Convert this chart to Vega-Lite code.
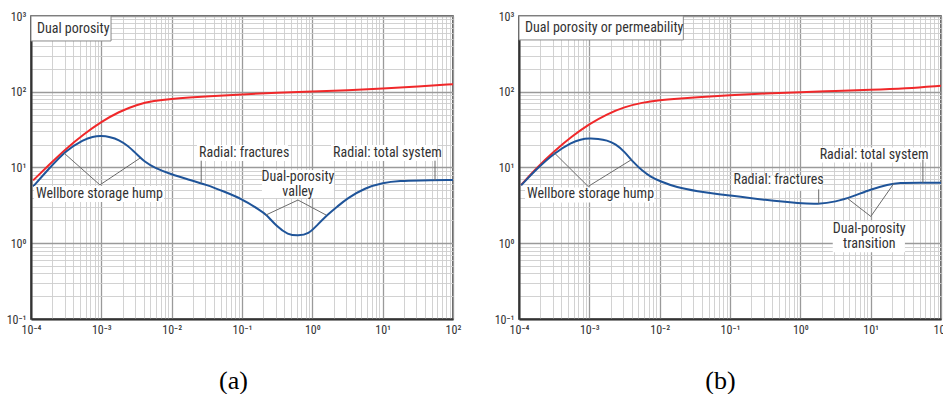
{
  "$schema": "https://vega.github.io/schema/vega-lite/v6.json",
  "background": "white",
  "padding": {"left": 5, "top": 9, "right": 0, "bottom": 0},
  "spacing": 31,
  "config": {
    "view": {"stroke": "#333333", "strokeWidth": 1.5},
    "font": "Liberation Sans Narrow, Roboto Condensed, DejaVu Sans Condensed, Arial Narrow, sans-serif",
    "text": {"font": "Liberation Sans Narrow, Roboto Condensed, DejaVu Sans Condensed, Arial Narrow, sans-serif", "fontSize": 14, "color": "#333333", "baseline": "middle"}
  },
  "datasets": {
    "curves": [
      {"panel": "a", "series": "total", "x": 0.0001072, "y": 6.76},
      {"panel": "a", "series": "total", "x": 0.0001778, "y": 10.7},
      {"panel": "a", "series": "total", "x": 0.0003162, "y": 17.8},
      {"panel": "a", "series": "total", "x": 0.0005623, "y": 27.5},
      {"panel": "a", "series": "total", "x": 0.001, "y": 40.3},
      {"panel": "a", "series": "total", "x": 0.001778, "y": 54.3},
      {"panel": "a", "series": "total", "x": 0.003162, "y": 67.6},
      {"panel": "a", "series": "total", "x": 0.005623, "y": 76.0},
      {"panel": "a", "series": "total", "x": 0.01, "y": 80.8},
      {"panel": "a", "series": "total", "x": 0.01778, "y": 84.1},
      {"panel": "a", "series": "total", "x": 0.03162, "y": 87.1},
      {"panel": "a", "series": "total", "x": 0.1, "y": 92.3},
      {"panel": "a", "series": "total", "x": 0.3162, "y": 97.2},
      {"panel": "a", "series": "total", "x": 1, "y": 101.2},
      {"panel": "a", "series": "total", "x": 3.162, "y": 104.7},
      {"panel": "a", "series": "total", "x": 10, "y": 110.4},
      {"panel": "a", "series": "total", "x": 31.62, "y": 117.5},
      {"panel": "a", "series": "total", "x": 100, "y": 125.9},
      {"panel": "a", "series": "derivative", "x": 0.0001072, "y": 5.62},
      {"panel": "a", "series": "derivative", "x": 0.0001778, "y": 9.55},
      {"panel": "a", "series": "derivative", "x": 0.0003162, "y": 17.0},
      {"panel": "a", "series": "derivative", "x": 0.0005623, "y": 23.4},
      {"panel": "a", "series": "derivative", "x": 0.00075, "y": 25.6},
      {"panel": "a", "series": "derivative", "x": 0.001, "y": 26.3},
      {"panel": "a", "series": "derivative", "x": 0.001334, "y": 25.3},
      {"panel": "a", "series": "derivative", "x": 0.001778, "y": 23.2},
      {"panel": "a", "series": "derivative", "x": 0.002371, "y": 19.5},
      {"panel": "a", "series": "derivative", "x": 0.003162, "y": 15.1},
      {"panel": "a", "series": "derivative", "x": 0.004217, "y": 11.7},
      {"panel": "a", "series": "derivative", "x": 0.005623, "y": 10.0},
      {"panel": "a", "series": "derivative", "x": 0.01, "y": 8.04},
      {"panel": "a", "series": "derivative", "x": 0.01778, "y": 6.92},
      {"panel": "a", "series": "derivative", "x": 0.03162, "y": 5.89},
      {"panel": "a", "series": "derivative", "x": 0.05623, "y": 4.79},
      {"panel": "a", "series": "derivative", "x": 0.1, "y": 3.84},
      {"panel": "a", "series": "derivative", "x": 0.1778, "y": 2.75},
      {"panel": "a", "series": "derivative", "x": 0.2188, "y": 2.43},
      {"panel": "a", "series": "derivative", "x": 0.3162, "y": 1.64},
      {"panel": "a", "series": "derivative", "x": 0.4467, "y": 1.30},
      {"panel": "a", "series": "derivative", "x": 0.631, "y": 1.25},
      {"panel": "a", "series": "derivative", "x": 0.8913, "y": 1.33},
      {"panel": "a", "series": "derivative", "x": 1.14, "y": 1.69},
      {"panel": "a", "series": "derivative", "x": 1.66, "y": 2.41},
      {"panel": "a", "series": "derivative", "x": 2.239, "y": 3.02},
      {"panel": "a", "series": "derivative", "x": 3.162, "y": 3.94},
      {"panel": "a", "series": "derivative", "x": 5.623, "y": 5.37},
      {"panel": "a", "series": "derivative", "x": 10, "y": 6.31},
      {"panel": "a", "series": "derivative", "x": 17.78, "y": 6.68},
      {"panel": "a", "series": "derivative", "x": 31.62, "y": 6.76},
      {"panel": "a", "series": "derivative", "x": 100, "y": 6.84},
      {"panel": "b", "series": "total", "x": 0.0001072, "y": 5.89},
      {"panel": "b", "series": "total", "x": 0.0001778, "y": 9.89},
      {"panel": "b", "series": "total", "x": 0.0003162, "y": 16.4},
      {"panel": "b", "series": "total", "x": 0.0005623, "y": 25.7},
      {"panel": "b", "series": "total", "x": 0.001, "y": 37.6},
      {"panel": "b", "series": "total", "x": 0.001778, "y": 50.7},
      {"panel": "b", "series": "total", "x": 0.003162, "y": 63.1},
      {"panel": "b", "series": "total", "x": 0.005623, "y": 72.0},
      {"panel": "b", "series": "total", "x": 0.01, "y": 77.6},
      {"panel": "b", "series": "total", "x": 0.01778, "y": 81.1},
      {"panel": "b", "series": "total", "x": 0.03162, "y": 84.1},
      {"panel": "b", "series": "total", "x": 0.1, "y": 90.2},
      {"panel": "b", "series": "total", "x": 0.3162, "y": 95.1},
      {"panel": "b", "series": "total", "x": 1, "y": 98.9},
      {"panel": "b", "series": "total", "x": 3.162, "y": 102.3},
      {"panel": "b", "series": "total", "x": 10, "y": 105.9},
      {"panel": "b", "series": "total", "x": 31.62, "y": 110.9},
      {"panel": "b", "series": "total", "x": 100, "y": 120.2},
      {"panel": "b", "series": "derivative", "x": 0.0001072, "y": 5.82},
      {"panel": "b", "series": "derivative", "x": 0.0001778, "y": 9.55},
      {"panel": "b", "series": "derivative", "x": 0.0003162, "y": 15.5},
      {"panel": "b", "series": "derivative", "x": 0.0005623, "y": 21.4},
      {"panel": "b", "series": "derivative", "x": 0.00075, "y": 23.5},
      {"panel": "b", "series": "derivative", "x": 0.001, "y": 24.3},
      {"panel": "b", "series": "derivative", "x": 0.001334, "y": 23.9},
      {"panel": "b", "series": "derivative", "x": 0.001778, "y": 22.9},
      {"panel": "b", "series": "derivative", "x": 0.002371, "y": 20.4},
      {"panel": "b", "series": "derivative", "x": 0.003162, "y": 16.2},
      {"panel": "b", "series": "derivative", "x": 0.004217, "y": 11.7},
      {"panel": "b", "series": "derivative", "x": 0.005623, "y": 9.12},
      {"panel": "b", "series": "derivative", "x": 0.0075, "y": 7.50},
      {"panel": "b", "series": "derivative", "x": 0.01, "y": 6.61},
      {"panel": "b", "series": "derivative", "x": 0.01778, "y": 5.43},
      {"panel": "b", "series": "derivative", "x": 0.03162, "y": 4.90},
      {"panel": "b", "series": "derivative", "x": 0.1, "y": 4.27},
      {"panel": "b", "series": "derivative", "x": 0.3162, "y": 3.72},
      {"panel": "b", "series": "derivative", "x": 1, "y": 3.35},
      {"panel": "b", "series": "derivative", "x": 1.778, "y": 3.27},
      {"panel": "b", "series": "derivative", "x": 3.162, "y": 3.51},
      {"panel": "b", "series": "derivative", "x": 5.623, "y": 4.17},
      {"panel": "b", "series": "derivative", "x": 10, "y": 5.13},
      {"panel": "b", "series": "derivative", "x": 17.78, "y": 5.96},
      {"panel": "b", "series": "derivative", "x": 25.1, "y": 6.31},
      {"panel": "b", "series": "derivative", "x": 50, "y": 6.31},
      {"panel": "b", "series": "derivative", "x": 100, "y": 6.31}
    ],
    "frames": [
      {"panel": "a", "x": 0.0001, "x2": 0.001374, "y": 1000, "y2": 468},
      {"panel": "b", "x": 0.0001, "x2": 0.0217, "y": 1000, "y2": 483}
    ],
    "backs": [
      {"panel": "a", "x": 0.0001104, "x2": 0.00778, "y": 5.70, "y2": 3.50},
      {"panel": "a", "x": 0.0229, "x2": 0.451, "y": 19.8, "y2": 12.2},
      {"panel": "a", "x": 1.844, "x2": 59.3, "y": 19.8, "y2": 12.2},
      {"panel": "a", "x": 0.192, "x2": 2.03, "y": 9.27, "y2": 3.95},
      {"panel": "b", "x": 0.0001219, "x2": 0.00839, "y": 5.46, "y2": 3.46},
      {"panel": "b", "x": 1.766, "x2": 61.1, "y": 18.3, "y2": 11.6},
      {"panel": "b", "x": 0.105, "x2": 2.01, "y": 7.85, "y2": 4.98},
      {"panel": "b", "x": 2.89, "x2": 30.7, "y": 1.95, "y2": 0.762}
    ],
    "leaders": [
      {"panel": "a", "x": 0.000295, "y": 15.5, "x2": 0.000955, "y2": 5.89},
      {"panel": "a", "x": 0.000955, "y": 5.89, "x2": 0.00355, "y2": 13.3},
      {"panel": "a", "x": 0.0263, "y": 12.3, "x2": 0.0263, "y2": 6.31},
      {"panel": "a", "x": 55.5, "y": 12.3, "x2": 55.5, "y2": 6.76},
      {"panel": "a", "x": 0.219, "y": 2.36, "x2": 0.625, "y2": 3.72},
      {"panel": "a", "x": 0.625, "y": 3.72, "x2": 1.567, "y2": 2.36},
      {"panel": "b", "x": 0.000305, "y": 16.2, "x2": 0.000962, "y2": 5.62},
      {"panel": "b", "x": 0.000962, "y": 5.62, "x2": 0.00398, "y2": 12.7},
      {"panel": "b", "x": 55.3, "y": 12.7, "x2": 55.3, "y2": 6.31},
      {"panel": "b", "x": 1.824, "y": 5.14, "x2": 1.824, "y2": 3.35},
      {"panel": "b", "x": 4.72, "y": 3.89, "x2": 10.05, "y2": 2.26},
      {"panel": "b", "x": 10.05, "y": 2.26, "x2": 21.4, "y2": 6.17}
    ],
    "labels": [
      {"panel": "a", "kind": "note", "text": "Dual porosity", "x": 0.0001216, "y": 676},
      {"panel": "a", "kind": "note", "text": "Wellbore storage hump", "x": 0.0001175, "y": 4.47},
      {"panel": "a", "kind": "note", "text": "Radial: fractures", "x": 0.0245, "y": 15.5},
      {"panel": "a", "kind": "note", "text": "Radial: total system", "x": 1.97, "y": 15.5},
      {"panel": "a", "kind": "callout", "text": "Dual-porosity\nvalley", "x": 0.625, "y": 7.40},
      {"panel": "b", "kind": "note", "text": "Dual porosity or permeability", "x": 0.0001219, "y": 685},
      {"panel": "b", "kind": "note", "text": "Wellbore storage hump", "x": 0.00013, "y": 4.42},
      {"panel": "b", "kind": "note", "text": "Radial: total system", "x": 1.884, "y": 14.8},
      {"panel": "b", "kind": "note", "text": "Radial: fractures", "x": 0.112, "y": 6.92},
      {"panel": "b", "kind": "callout", "text": "Dual-porosity\ntransition", "x": 9.55, "y": 1.528}
    ]
  },
  "hconcat": [
    {
      "width": 422,
      "height": 303,
      "layer": [
        {
          "data": {"name": "curves"},
          "transform": [{"filter": "datum.panel == 'a' && datum.series == 'total'"}],
          "mark": {"type": "line", "interpolate": "basis", "strokeWidth": 2, "clip": true, "color": "#f0282a"},
          "encoding": {
            "x": {"field": "x", "type": "quantitative", "scale": {"type": "log", "domain": [0.0001, 100], "nice": false},
              "axis": {"values": [0.0001,0.0002,0.0003,0.0004,0.0005,0.0006,0.0007,0.0008,0.0009,0.001,0.002,0.003,0.004,0.005,0.006,0.007,0.008,0.009,0.01,0.02,0.03,0.04,0.05,0.06,0.07,0.08,0.09,0.1,0.2,0.3,0.4,0.5,0.6,0.7,0.8,0.9,1,2,3,4,5,6,7,8,9,10,20,30,40,50,60,70,80,90,100],
                "labelExpr": "abs(log(datum.value)/LN10 - round(log(datum.value)/LN10)) < 0.001 ? ['10⁻⁴','10⁻³','10⁻²','10⁻¹','10⁰','10¹','10²','10³'][round(log(datum.value)/LN10)+4] : ''",
                "labelOverlap": false, "labelFlush": false, "ticks": false, "labelPadding": 5, "labelFontSize": 12, "labelColor": "#333333",
                "domainColor": "#333333", "domainWidth": 2,
                "gridColor": {"condition": {"test": "abs(log(datum.value)/LN10 - round(log(datum.value)/LN10)) < 0.001", "value": "#9a9a9a"}, "value": "#cdcdcd"},
                "gridWidth": {"condition": {"test": "abs(log(datum.value)/LN10 - round(log(datum.value)/LN10)) < 0.001", "value": 1.3}, "value": 0.9},
                "title": "(a)", "titleFont": "Liberation Serif", "titleFontSize": 26, "titleFontWeight": "normal", "titleColor": "#000000",
                "titleX": 202, "titleY": 69, "titleBaseline": "alphabetic", "titleAlign": "center"}},
            "y": {"field": "y", "type": "quantitative", "scale": {"type": "log", "domain": [0.1, 1000], "nice": false},
              "axis": {"values": [0.1,0.2,0.3,0.4,0.5,0.6,0.7,0.8,0.9,1,2,3,4,5,6,7,8,9,10,20,30,40,50,60,70,80,90,100,200,300,400,500,600,700,800,900,1000],
                "labelExpr": "abs(log(datum.value)/LN10 - round(log(datum.value)/LN10)) < 0.001 ? ['10⁻⁴','10⁻³','10⁻²','10⁻¹','10⁰','10¹','10²','10³'][round(log(datum.value)/LN10)+4] : ''",
                "labelOverlap": false, "labelFlush": false, "ticks": false, "labelPadding": 5, "labelFontSize": 12, "labelColor": "#333333",
                "domainColor": "#333333", "domainWidth": 2,
                "gridColor": {"condition": {"test": "abs(log(datum.value)/LN10 - round(log(datum.value)/LN10)) < 0.001", "value": "#9a9a9a"}, "value": "#cdcdcd"},
                "gridWidth": {"condition": {"test": "abs(log(datum.value)/LN10 - round(log(datum.value)/LN10)) < 0.001", "value": 1.3}, "value": 0.9},
                "title": null}}
          }
        },
        {
          "data": {"name": "curves"},
          "transform": [{"filter": "datum.panel == 'a' && datum.series == 'derivative'"}],
          "mark": {"type": "line", "interpolate": "basis", "strokeWidth": 2, "clip": true, "color": "#1f5499"},
          "encoding": {"x": {"field": "x", "type": "quantitative"}, "y": {"field": "y", "type": "quantitative"}}
        },
        {
          "data": {"name": "frames"},
          "transform": [{"filter": "datum.panel == 'a'"}],
          "mark": {"type": "rect", "fill": "white", "stroke": "#8a8a8a", "strokeWidth": 1},
          "encoding": {"x": {"field": "x", "type": "quantitative"}, "x2": {"field": "x2"}, "y": {"field": "y", "type": "quantitative"}, "y2": {"field": "y2"}}
        },
        {
          "data": {"name": "backs"},
          "transform": [{"filter": "datum.panel == 'a'"}],
          "mark": {"type": "rect", "fill": "white"},
          "encoding": {"x": {"field": "x", "type": "quantitative"}, "x2": {"field": "x2"}, "y": {"field": "y", "type": "quantitative"}, "y2": {"field": "y2"}}
        },
        {
          "data": {"name": "leaders"},
          "transform": [{"filter": "datum.panel == 'a'"}],
          "mark": {"type": "rule", "color": "#6b6b6b", "strokeWidth": 1},
          "encoding": {"x": {"field": "x", "type": "quantitative"}, "x2": {"field": "x2"}, "y": {"field": "y", "type": "quantitative"}, "y2": {"field": "y2"}}
        },
        {
          "data": {"name": "labels"},
          "transform": [{"filter": "datum.panel == 'a' && datum.kind == 'note'"}],
          "mark": {"type": "text", "align": "left"},
          "encoding": {"x": {"field": "x", "type": "quantitative"}, "y": {"field": "y", "type": "quantitative"}, "text": {"field": "text"}}
        },
        {
          "data": {"name": "labels"},
          "transform": [{"filter": "datum.panel == 'a' && datum.kind == 'callout'"}],
          "mark": {"type": "text", "align": "center", "lineBreak": "\n", "lineHeight": 15},
          "encoding": {"x": {"field": "x", "type": "quantitative"}, "y": {"field": "y", "type": "quantitative"}, "text": {"field": "text"}}
        }
      ]
    },
    {
      "width": 422,
      "height": 303,
      "layer": [
        {
          "data": {"name": "curves"},
          "transform": [{"filter": "datum.panel == 'b' && datum.series == 'total'"}],
          "mark": {"type": "line", "interpolate": "basis", "strokeWidth": 2, "clip": true, "color": "#f0282a"},
          "encoding": {
            "x": {"field": "x", "type": "quantitative", "scale": {"type": "log", "domain": [0.0001, 100], "nice": false},
              "axis": {"values": [0.0001,0.0002,0.0003,0.0004,0.0005,0.0006,0.0007,0.0008,0.0009,0.001,0.002,0.003,0.004,0.005,0.006,0.007,0.008,0.009,0.01,0.02,0.03,0.04,0.05,0.06,0.07,0.08,0.09,0.1,0.2,0.3,0.4,0.5,0.6,0.7,0.8,0.9,1,2,3,4,5,6,7,8,9,10,20,30,40,50,60,70,80,90,100],
                "labelExpr": "abs(log(datum.value)/LN10 - round(log(datum.value)/LN10)) < 0.001 ? ['10⁻⁴','10⁻³','10⁻²','10⁻¹','10⁰','10¹','10²','10³'][round(log(datum.value)/LN10)+4] : ''",
                "labelOverlap": false, "labelFlush": false, "ticks": false, "labelPadding": 5, "labelFontSize": 12, "labelColor": "#333333",
                "domainColor": "#333333", "domainWidth": 2,
                "gridColor": {"condition": {"test": "abs(log(datum.value)/LN10 - round(log(datum.value)/LN10)) < 0.001", "value": "#9a9a9a"}, "value": "#cdcdcd"},
                "gridWidth": {"condition": {"test": "abs(log(datum.value)/LN10 - round(log(datum.value)/LN10)) < 0.001", "value": 1.3}, "value": 0.9},
                "title": "(b)", "titleFont": "Liberation Serif", "titleFontSize": 26, "titleFontWeight": "normal", "titleColor": "#000000",
                "titleX": 201, "titleY": 69, "titleBaseline": "alphabetic", "titleAlign": "center"}},
            "y": {"field": "y", "type": "quantitative", "scale": {"type": "log", "domain": [0.1, 1000], "nice": false},
              "axis": {"values": [0.1,0.2,0.3,0.4,0.5,0.6,0.7,0.8,0.9,1,2,3,4,5,6,7,8,9,10,20,30,40,50,60,70,80,90,100,200,300,400,500,600,700,800,900,1000],
                "labelExpr": "abs(log(datum.value)/LN10 - round(log(datum.value)/LN10)) < 0.001 ? ['10⁻⁴','10⁻³','10⁻²','10⁻¹','10⁰','10¹','10²','10³'][round(log(datum.value)/LN10)+4] : ''",
                "labelOverlap": false, "labelFlush": false, "ticks": false, "labelPadding": 5, "labelFontSize": 12, "labelColor": "#333333",
                "domainColor": "#333333", "domainWidth": 2,
                "gridColor": {"condition": {"test": "abs(log(datum.value)/LN10 - round(log(datum.value)/LN10)) < 0.001", "value": "#9a9a9a"}, "value": "#cdcdcd"},
                "gridWidth": {"condition": {"test": "abs(log(datum.value)/LN10 - round(log(datum.value)/LN10)) < 0.001", "value": 1.3}, "value": 0.9},
                "title": null}}
          }
        },
        {
          "data": {"name": "curves"},
          "transform": [{"filter": "datum.panel == 'b' && datum.series == 'derivative'"}],
          "mark": {"type": "line", "interpolate": "basis", "strokeWidth": 2, "clip": true, "color": "#1f5499"},
          "encoding": {"x": {"field": "x", "type": "quantitative"}, "y": {"field": "y", "type": "quantitative"}}
        },
        {
          "data": {"name": "frames"},
          "transform": [{"filter": "datum.panel == 'b'"}],
          "mark": {"type": "rect", "fill": "white", "stroke": "#8a8a8a", "strokeWidth": 1},
          "encoding": {"x": {"field": "x", "type": "quantitative"}, "x2": {"field": "x2"}, "y": {"field": "y", "type": "quantitative"}, "y2": {"field": "y2"}}
        },
        {
          "data": {"name": "backs"},
          "transform": [{"filter": "datum.panel == 'b'"}],
          "mark": {"type": "rect", "fill": "white"},
          "encoding": {"x": {"field": "x", "type": "quantitative"}, "x2": {"field": "x2"}, "y": {"field": "y", "type": "quantitative"}, "y2": {"field": "y2"}}
        },
        {
          "data": {"name": "leaders"},
          "transform": [{"filter": "datum.panel == 'b'"}],
          "mark": {"type": "rule", "color": "#6b6b6b", "strokeWidth": 1},
          "encoding": {"x": {"field": "x", "type": "quantitative"}, "x2": {"field": "x2"}, "y": {"field": "y", "type": "quantitative"}, "y2": {"field": "y2"}}
        },
        {
          "data": {"name": "labels"},
          "transform": [{"filter": "datum.panel == 'b' && datum.kind == 'note'"}],
          "mark": {"type": "text", "align": "left"},
          "encoding": {"x": {"field": "x", "type": "quantitative"}, "y": {"field": "y", "type": "quantitative"}, "text": {"field": "text"}}
        },
        {
          "data": {"name": "labels"},
          "transform": [{"filter": "datum.panel == 'b' && datum.kind == 'callout'"}],
          "mark": {"type": "text", "align": "center", "lineBreak": "\n", "lineHeight": 15},
          "encoding": {"x": {"field": "x", "type": "quantitative"}, "y": {"field": "y", "type": "quantitative"}, "text": {"field": "text"}}
        }
      ]
    }
  ]
}
